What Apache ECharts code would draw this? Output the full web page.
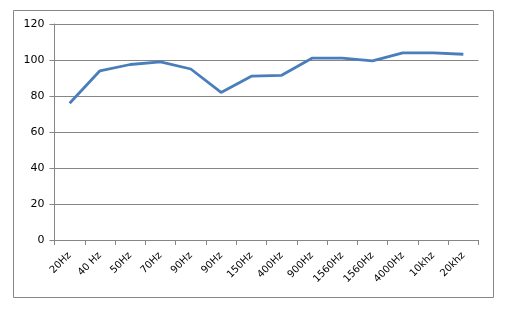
<!DOCTYPE html>
<html><head><meta charset="utf-8">
<script src="https://cdn.jsdelivr.net/npm/echarts@6/dist/echarts.min.js"></script>
<style>html,body{margin:0;padding:0;background:#fff}#c{width:509px;height:315px}</style>
</head><body><div id="c"></div>
<script>
const categories = ['20Hz','40 Hz','50Hz','70Hz','90Hz','90Hz','150Hz','400Hz','900Hz','1560Hz','1560Hz','4000Hz','10khz','20khz'];
const values = [76, 94, 97.5, 99, 95, 82, 91, 91.5, 101, 101, 99.5, 104, 104, 103.2];
const yTicks = [0, 20, 40, 60, 80, 100, 120];

const chart = echarts.init(document.getElementById('c'), null, {renderer:'canvas'});
chart.setOption({
  animation:false,
  backgroundColor:'#fff',
  graphic:[{type:'rect',shape:{x:13.5,y:10.5,width:480,height:287},style:{fill:'none',stroke:'#868686',lineWidth:1},silent:true}],
  grid:{left:54.5,right:30.5,top:24,bottom:75,containLabel:false},
  xAxis:{type:'category',data:categories,boundaryGap:true,
    axisLine:{lineStyle:{color:'#868686',width:1}},
    axisTick:{show:true,alignWithLabel:false,length:5,lineStyle:{color:'#868686'}},
    axisLabel:{rotate:45,interval:0,color:'#000',fontFamily:'"DejaVu Sans", sans-serif',fontSize:10,margin:14}},
  yAxis:{type:'value',min:yTicks[0],max:yTicks[yTicks.length-1],interval:20,
    axisLine:{show:true,lineStyle:{color:'#868686',width:1}},
    axisTick:{show:true,length:5,lineStyle:{color:'#868686'}},
    splitLine:{show:true,lineStyle:{color:'#868686',width:1}},
    axisLabel:{color:'#000',fontFamily:'"DejaVu Sans", sans-serif',fontSize:11,margin:10}},
  series:[{type:'line',data:values,symbol:'none',lineStyle:{color:'#4A7EBB',width:2.8},itemStyle:{color:'#4A7EBB'}}]
});
</script></body></html>
